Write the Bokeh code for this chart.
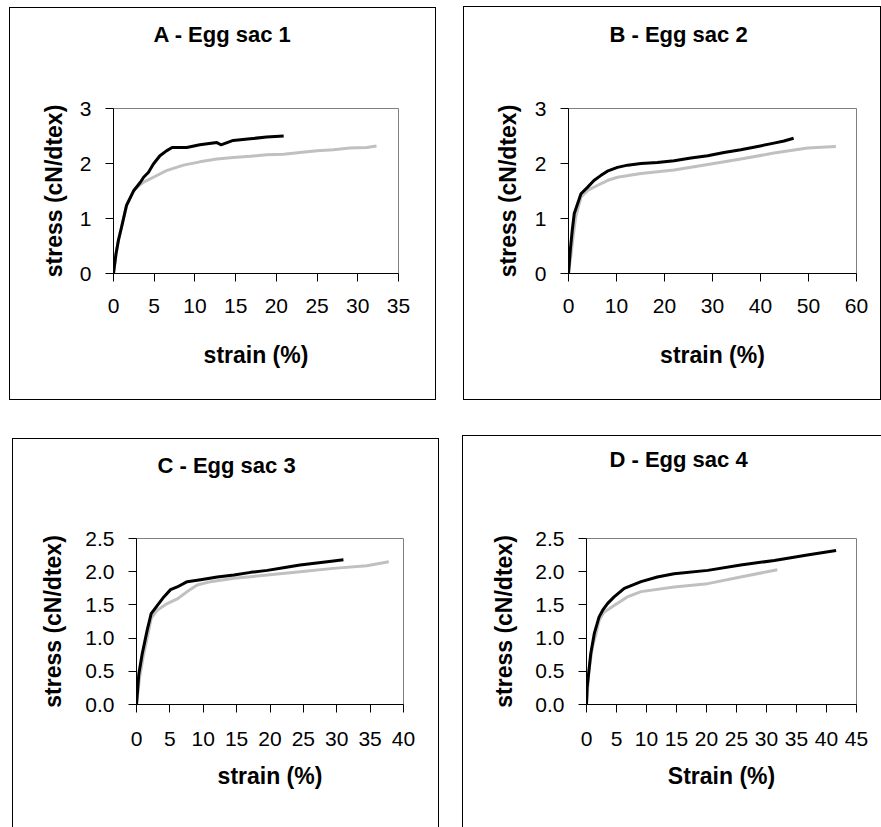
from bokeh.plotting import figure
from bokeh.layouts import column, row
from bokeh.models import Range1d, FixedTicker, NumeralTickFormatter, Title, Spacer
from bokeh.embed import file_html
from bokeh.resources import INLINE

# ---- stress-strain curves (strain in %, stress in cN/dtex) ----
a_black_strain = [0, 0.3, 0.6, 1.0, 1.6, 2.5, 3.3, 3.7, 4.3, 4.9, 5.7, 6.5, 7.2, 9.0, 10.6, 12.7, 13.2, 14.7, 16.8, 18.8, 20.9]
a_black_stress = [0, 0.35, 0.6, 0.85, 1.24, 1.51, 1.66, 1.75, 1.84, 1.99, 2.14, 2.23, 2.29, 2.29, 2.34, 2.38, 2.34, 2.42, 2.45, 2.48, 2.50]
a_grey_strain = [0, 0.3, 0.6, 1.0, 1.6, 2.5, 3.3, 3.7, 4.9, 6.5, 8.6, 10.6, 12.7, 14.7, 16.8, 18.8, 20.9, 22.9, 25.0, 27.0, 29.0, 31.1, 32.3]
a_grey_stress = [0, 0.35, 0.6, 0.85, 1.24, 1.51, 1.62, 1.66, 1.75, 1.87, 1.97, 2.03, 2.08, 2.11, 2.13, 2.16, 2.17, 2.20, 2.23, 2.25, 2.28, 2.29, 2.32]

b_black_strain = [0, 0.4, 0.8, 1.2, 2.6, 4.0, 5.3, 6.7, 8.1, 10.2, 12.3, 15.1, 18.5, 22.0, 25.5, 29.0, 32.4, 35.9, 39.4, 42.8, 44.9, 46.9]
b_black_stress = [0, 0.45, 0.8, 1.09, 1.45, 1.57, 1.69, 1.78, 1.86, 1.93, 1.97, 2.00, 2.02, 2.05, 2.10, 2.14, 2.20, 2.25, 2.31, 2.37, 2.41, 2.46]
b_grey_strain = [0, 0.6, 1.0, 1.5, 2.6, 4.0, 6.0, 8.1, 10.2, 15.1, 22.0, 29.0, 35.9, 42.8, 49.8, 55.7]
b_grey_stress = [0, 0.4, 0.7, 1.03, 1.39, 1.51, 1.60, 1.69, 1.75, 1.82, 1.88, 1.98, 2.08, 2.19, 2.28, 2.31]

c_black_strain = [0, 0.35, 0.85, 1.6, 2.2, 3.1, 4.1, 5.1, 6.1, 7.6, 9.6, 12.1, 14.6, 17.1, 19.6, 22.0, 24.5, 27.0, 29.5, 31.0]
c_black_stress = [0, 0.46, 0.76, 1.12, 1.37, 1.49, 1.62, 1.73, 1.77, 1.85, 1.88, 1.92, 1.95, 1.99, 2.02, 2.06, 2.10, 2.13, 2.16, 2.18]
c_grey_strain = [0, 0.45, 1.0, 1.7, 2.2, 3.1, 4.6, 6.1, 7.6, 9.1, 11.1, 14.6, 19.6, 24.5, 29.5, 34.5, 37.8]
c_grey_stress = [0, 0.40, 0.72, 1.05, 1.30, 1.42, 1.52, 1.59, 1.70, 1.80, 1.85, 1.90, 1.95, 2.00, 2.05, 2.09, 2.15]

d_black_strain = [0, 0.1, 0.7, 1.3, 2.1, 2.7, 3.5, 4.6, 6.3, 9.1, 11.8, 14.6, 20.2, 25.7, 31.3, 36.8, 41.6]
d_black_stress = [0, 0.25, 0.76, 1.07, 1.32, 1.42, 1.52, 1.62, 1.75, 1.85, 1.92, 1.97, 2.02, 2.10, 2.17, 2.25, 2.32]
d_grey_strain = [0, 0.4, 1.0, 1.6, 2.1, 2.9, 4.6, 6.8, 9.1, 14.6, 20.2, 25.7, 31.8]
d_grey_stress = [0, 0.51, 0.87, 1.07, 1.27, 1.39, 1.49, 1.62, 1.70, 1.77, 1.82, 1.92, 2.03]

# ---- texts and axis scales ----
titles = ["A - Egg sac 1", "B - Egg sac 2", "C - Egg sac 3", "D - Egg sac 4"]
x_labels = ["strain (%)", "strain (%)", "strain (%)", "Strain (%)"]
y_label = "stress (cN/dtex)"
x_maxes = [35, 60, 40, 45]
x_ticks = [list(range(0, 36, 5)), list(range(0, 61, 10)), list(range(0, 41, 5)), list(range(0, 46, 5))]
y_maxes = [3, 3, 2.5, 2.5]
y_ticks = [[0, 1, 2, 3], [0, 1, 2, 3], [0, 0.5, 1.0, 1.5, 2.0, 2.5], [0, 0.5, 1.0, 1.5, 2.0, 2.5]]
y_formats = ["0", "0", "0.0", "0.0"]

series = [
    (a_black_strain, a_black_stress, a_grey_strain, a_grey_stress),
    (b_black_strain, b_black_stress, b_grey_strain, b_grey_stress),
    (c_black_strain, c_black_stress, c_grey_strain, c_grey_stress),
    (d_black_strain, d_black_stress, d_grey_strain, d_grey_stress),
]

# panel geometry (pixels): panel size, frame borders (left, right, top, bottom),
# offset of the panel on the page, frame line sides, title placement, label standoffs
panels = [
    dict(w=427, h=393, borders=(104, 38, 101, 127), pad=(9, 7),
         shadow="inset 0 0 0 1px black", t_off=40, t_stand=24, spacer=47,
         xtick_s=17, xlab_s=26, ylab_s=10),
    dict(w=418, h=394, borders=(105, 25, 102, 127), pad=(27, 6),
         shadow="inset 0 0 0 1px black", t_off=41, t_stand=26, spacer=46,
         xtick_s=17, xlab_s=26, ylab_s=11),
    dict(w=427, h=389, borders=(124, 36, 100, 123), pad=(12, 38),
         shadow="inset 1px 1px 0 0 black, inset -1px 0 0 0 black", t_off=21, t_stand=25, spacer=45,
         xtick_s=19, xlab_s=14, ylab_s=16),
    dict(w=419, h=392, borders=(124, 25, 103, 123), pad=(23, 35),
         shadow="inset 1px 1px 0 0 black", t_off=23, t_stand=19, spacer=54,
         xtick_s=19, xlab_s=14, ylab_s=15),
]

FONT = "Liberation Sans"


def make_panel(i):
    g = panels[i]
    l, r, t, b = g["borders"]
    p = figure(width=g["w"], height=g["h"], output_backend="svg", toolbar_location=None,
               x_range=Range1d(0, x_maxes[i]), y_range=Range1d(0, y_maxes[i]),
               min_border_left=l, min_border_right=r, min_border_top=t, min_border_bottom=b,
               styles={"box-shadow": g["shadow"]})
    p.grid.visible = False
    p.outline_line_color = "#808080"
    p.outline_line_width = 1
    p.background_fill_color = "white"
    p.border_fill_alpha = 0

    for ax in (p.xaxis[0], p.yaxis[0]):
        ax.axis_line_color = "black"
        ax.axis_line_width = 1
        ax.major_tick_line_color = "black"
        ax.major_tick_out = 8
        ax.major_tick_in = 0
        ax.minor_tick_line_color = None
        ax.major_label_text_font = FONT
        ax.major_label_text_font_size = "21px"
        ax.major_label_text_color = "black"
        ax.axis_label_text_font = FONT
        ax.axis_label_text_font_size = "23px"
        ax.axis_label_text_font_style = "bold"
        ax.axis_label_text_color = "black"
    p.xaxis[0].ticker = FixedTicker(ticks=x_ticks[i])
    p.yaxis[0].ticker = FixedTicker(ticks=y_ticks[i])
    p.yaxis[0].formatter = NumeralTickFormatter(format=y_formats[i])
    p.xaxis[0].major_label_standoff = g["xtick_s"]
    p.yaxis[0].major_label_standoff = 14
    p.xaxis[0].axis_label = x_labels[i]
    p.xaxis[0].axis_label_standoff = g["xlab_s"]
    p.yaxis[0].axis_label = y_label
    p.yaxis[0].axis_label_standoff = g["ylab_s"]

    bx, by, gx, gy = series[i]
    p.line(gx, gy, line_color="#c0c0c0", line_width=3, line_join="round")
    p.line(bx, by, line_color="black", line_width=3, line_join="round")

    # blank strip between the frame and the panel heading
    p.add_layout(Title(text=" ", text_font_size="1px", standoff=g["spacer"]), "above")
    p.title = Title(text=titles[i], text_font=FONT, text_font_size="22px",
                    text_font_style="bold", text_color="black", align="left",
                    offset=g["t_off"], standoff=g["t_stand"])
    return p


figs = [make_panel(i) for i in range(4)]


def placed(i):
    g = panels[i]
    return row(Spacer(width=g["pad"][0], height=1),
               column(Spacer(width=g["w"], height=g["pad"][1]), figs[i]))


layout = column(row(placed(0), placed(1)), row(placed(2), placed(3)))

open("out.html", "w").write(file_html(layout, INLINE))
